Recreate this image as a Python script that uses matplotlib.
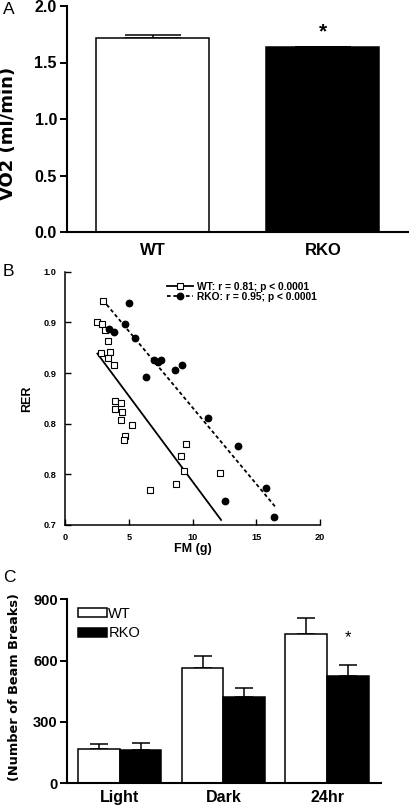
import numpy as np
import matplotlib
matplotlib.use('Agg')
import matplotlib.pyplot as plt
from matplotlib.patches import Patch
from matplotlib.lines import Line2D
from matplotlib.ticker import FormatStrFormatter

plt.rcParams['font.family'] = ['Liberation Sans', 'DejaVu Sans']
plt.rcParams['font.weight'] = 'bold'
plt.rcParams['axes.labelweight'] = 'bold'

# panel A: VO2
groups_a = ['WT', 'RKO']
vo2_mean = [1.72, 1.635]
vo2_err = [0.025, 0.0]

# panel B: RER vs fat mass
wt_fm = [3.0, 2.54, 2.93, 3.14, 3.40, 2.82, 3.53, 3.35, 3.84, 3.92, 4.37, 3.92,
         4.50, 4.39, 5.23, 4.71, 4.65, 9.49, 9.07, 9.33, 12.18, 6.67, 8.68]
wt_rer = [0.965, 0.940, 0.938, 0.931, 0.918, 0.904, 0.905, 0.898, 0.890, 0.847,
          0.845, 0.837, 0.834, 0.824, 0.818, 0.805, 0.801, 0.796, 0.782, 0.764,
          0.762, 0.742, 0.749]
rko_fm = [5.05, 4.73, 3.48, 3.87, 5.46, 6.98, 7.27, 7.53, 6.35, 8.63, 9.18,
          11.22, 13.6, 12.55, 15.76, 16.4]
rko_rer = [0.963, 0.938, 0.932, 0.929, 0.922, 0.895, 0.893, 0.895, 0.875, 0.884,
           0.889, 0.827, 0.794, 0.728, 0.744, 0.709]
wt_fit_fm = [2.54, 12.24]
wt_fit_rer = [0.903, 0.706]
rko_fit_fm = [3.27, 16.47]
rko_fit_rer = [0.961, 0.722]

# panel C: activity
periods = ['Light', 'Dark', '24hr']
beam_wt = [166, 563, 732]
beam_wt_err = [25, 60, 77]
beam_rko = [163, 421, 525]
beam_rko_err = [33, 44, 52]

W, H = 409, 806


def fig_rect(left, top, right, bottom):
    return [left / W, 1 - bottom / H, (right - left) / W, (bottom - top) / H]


fig = plt.figure(figsize=(W / 100, H / 100), dpi=100)

# ---------- A ----------
ax = fig.add_axes(fig_rect(66.7, 6, 408, 232))
xa = np.arange(len(groups_a))
ax.bar(xa, vo2_mean, width=0.665, color=['white', 'black'], edgecolor='black', linewidth=1.1, zorder=2)
ax.errorbar(xa, vo2_mean, yerr=[np.zeros(2), vo2_err], fmt='none', ecolor='black',
            elinewidth=1.1, capsize=20, capthick=1.1, zorder=1)
ax.text(xa[1], 1.775, '*', ha='center', va='center', fontsize=15)
ax.set_xlim(-0.505, 1.5)
ax.set_ylim(0, 2.0)
ax.set_yticks([0, 0.5, 1.0, 1.5, 2.0])
ax.yaxis.set_major_formatter(FormatStrFormatter('%.1f'))
ax.set_xticks(xa)
ax.set_xticklabels(groups_a)
ax.tick_params(axis='x', length=0, pad=8, labelsize=12)
ax.tick_params(axis='y', length=5, width=1.4, pad=2, labelsize=11.5)
ax.spines['top'].set_visible(False)
ax.spines['right'].set_visible(False)
for s in ['left', 'bottom']:
    ax.spines[s].set_linewidth(1.5)
ax.set_ylabel('VO2 (ml/min)', fontsize=13, family='DejaVu Sans')
ax.yaxis.set_label_coords(-0.145, 0.438)

# ---------- B ----------
ax = fig.add_axes(fig_rect(65, 271.7, 320, 525))
ax.plot(wt_fit_fm, wt_fit_rer, color='black', linewidth=1.3, zorder=1)
ax.plot(rko_fit_fm, rko_fit_rer, color='black', linewidth=1.3, linestyle=(0, (2, 1.5)), zorder=1)
ax.plot(wt_fm, wt_rer, linestyle='none', marker='s', markersize=4.3, markerfacecolor='white',
        markeredgecolor='black', markeredgewidth=0.8, zorder=3)
ax.plot(rko_fm, rko_rer, linestyle='none', marker='o', markersize=4.6, color='black', zorder=3)
ax.set_xlim(0, 20)
ax.set_ylim(0.7, 1.0)
ax.set_xticks([0, 5, 10, 15, 20])
ax.set_yticks(np.linspace(0.7, 1.0, 6))
ax.yaxis.set_major_formatter(FormatStrFormatter('%.1f'))
ax.tick_params(direction='in', length=4, width=1, labelsize=6.6, pad=6)
ax.spines['top'].set_visible(False)
ax.spines['right'].set_visible(False)
for s in ['left', 'bottom']:
    ax.spines[s].set_linewidth(1.1)
ax.set_ylabel('RER', fontsize=9)
ax.yaxis.set_label_coords(-0.125, 0.5)
ax.set_xlabel('FM (g)', fontsize=9)
ax.xaxis.set_label_coords(0.5, -0.07)
hb = [Line2D([], [], color='black', linewidth=1.3, marker='s', markersize=4.3,
             markerfacecolor='white', markeredgewidth=0.8),
      Line2D([], [], color='black', linewidth=1.3, linestyle=(0, (2, 1.5)), marker='o', markersize=4.6)]
ax.legend(hb, ['WT: r = 0.81; p < 0.0001', 'RKO: r = 0.95; p < 0.0001'], loc='upper left',
          bbox_to_anchor=(0.399, 0.96), frameon=False, fontsize=7.4, handlelength=2.55,
          handletextpad=0.35, labelspacing=-0.02, borderpad=0, borderaxespad=0, numpoints=1)

# ---------- C ----------
ax = fig.add_axes(fig_rect(66.7, 599.3, 381, 783.3))
xc = np.arange(len(periods))
bw = 0.403
ax.bar(xc - bw / 2, beam_wt, width=bw, color='white', edgecolor='black', linewidth=1.1, zorder=2)
ax.bar(xc + bw / 2, beam_rko, width=bw, color='black', edgecolor='black', linewidth=1.1, zorder=2)
ax.errorbar(xc - bw / 2, beam_wt, yerr=[np.zeros(3), beam_wt_err], fmt='none', ecolor='black',
            elinewidth=1.1, capsize=6.5, capthick=1.1, zorder=1)
ax.errorbar(xc + bw / 2, beam_rko, yerr=[np.zeros(3), beam_rko_err], fmt='none', ecolor='black',
            elinewidth=1.1, capsize=6.5, capthick=1.1, zorder=1)
ax.text(xc[2] + bw / 2, 712, '*', ha='center', va='center', fontsize=12, fontweight='normal')
ax.set_xlim(-0.51, 2.517)
ax.set_ylim(0, 900)
ax.set_yticks([0, 300, 600, 900])
ax.set_xticks(xc)
ax.set_xticklabels(periods)
ax.tick_params(axis='x', length=0, pad=5, labelsize=11.5)
ax.tick_params(axis='y', length=5, width=1.4, pad=1.5, labelsize=10.5)
ax.spines['top'].set_visible(False)
ax.spines['right'].set_visible(False)
for s in ['left', 'bottom']:
    ax.spines[s].set_linewidth(1.5)
ax.set_ylabel('(Number of Beam Breaks)', fontsize=9.3, family='DejaVu Sans')
ax.yaxis.set_label_coords(-0.145, 0.523)
hc = [Patch(facecolor='white', edgecolor='black', linewidth=1.1),
      Patch(facecolor='black', edgecolor='black', linewidth=1.1)]
ax.legend(hc, ['WT', 'RKO'], loc='upper left', bbox_to_anchor=(0.035, 0.96), frameon=False,
          prop={'size': 10.5, 'weight': 'normal'}, handlelength=2.0, handleheight=0.65,
          handletextpad=0.1, labelspacing=0.4, borderpad=0, borderaxespad=0)

# panel letters
for letter, top in [('A', 2), ('B', 264), ('C', 570)]:
    fig.text(3 / W, 1 - top / H, letter, ha='left', va='top', fontsize=12.5, fontweight='normal')

fig.savefig('out.png', dpi=100)
